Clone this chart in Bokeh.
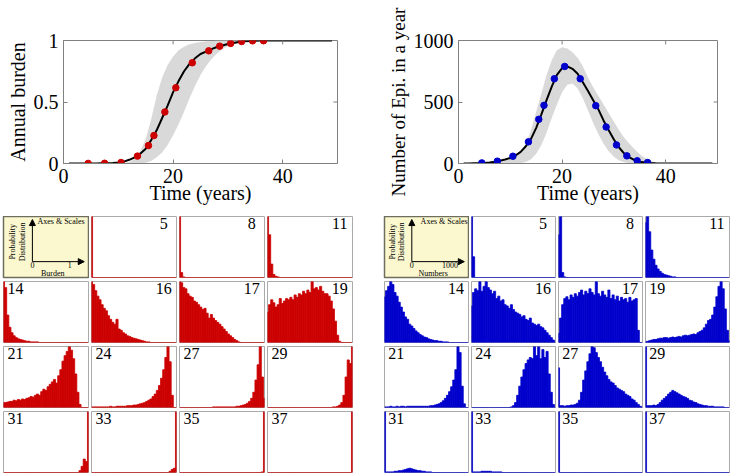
from math import pi
from bokeh.plotting import figure
from bokeh.models import Range1d, FixedTicker, Arrow, NormalHead, Spacer
from bokeh.layouts import row, column
from bokeh.embed import file_html
from bokeh.resources import INLINE
from bokeh.core.properties import value

SERIF = "Liberation Serif"
RED = "#cc0000"
BLUE = "#0000cc"
BAND = "#d9d9d9"
AXIS_GREY = "#808080"

# ---------------- top panels data ----------------
years = list(range(1, 50))
burden_mean = [0, 0, 0, 0, 0.001, 0.001, 0.002, 0.003,
               0.005, 0.008, 0.015, 0.03, 0.05, 0.08, 0.12, 0.19, 0.27, 0.37, 0.47, 0.58,
               0.67, 0.75, 0.81, 0.855, 0.89, 0.91, 0.93, 0.947, 0.96, 0.972, 0.98, 0.988,
               0.993, 0.996, 0.998,
               1, 1, 1, 1, 1, 1, 1, 1, 1, 1, 1, 1, 1, 1]
burden_upper = [0, 0, 0, 0, 0, 0, 0, 0, 0, 0,
                0.003, 0.012, 0.04, 0.1, 0.2, 0.36, 0.55, 0.7, 0.8, 0.87, 0.92, 0.95, 0.97,
                0.98, 0.988, 0.993, 0.996, 0.998,
                1, 1, 1, 1, 1, 1, 1, 1, 1, 1, 1, 1, 1, 1, 1, 1, 1, 1, 1, 1, 1]
burden_lower = [0, 0, 0, 0, 0, 0, 0, 0, 0, 0, 0, 0, 0,
                0.002, 0.006, 0.02, 0.05, 0.09, 0.15, 0.23, 0.32, 0.42, 0.53, 0.63, 0.72,
                0.79, 0.85, 0.895, 0.93, 0.955, 0.972, 0.983, 0.99, 0.995, 0.998,
                1, 1, 1, 1, 1, 1, 1, 1, 1, 1, 1, 1, 1, 1]
epi_mean = [0, 1, 2, 3, 5, 8, 14, 22, 32, 45, 65, 95, 140, 200, 290, 400, 515, 625, 720, 775,
            790, 770, 730, 660, 590, 515, 440, 350, 270, 195, 130, 80, 50, 27, 15, 9, 5, 2, 1,
            0, 0, 0, 0, 0, 0, 0, 0, 0, 0]
epi_upper = [0, 0, 0, 0, 1, 3, 6, 12, 22, 38, 60, 100, 160, 270, 420, 570, 720, 840, 920, 945,
             935, 905, 860, 790, 700, 620, 550, 480, 410, 340, 270, 210, 160, 115, 75, 45, 25,
             10, 3, 0, 0, 0, 0, 0, 0, 0, 0, 0, 0]
epi_lower = [0, 0, 0, 0, 0, 0, 0, 0, 0, 0, 0,
             3, 12, 35, 80, 150, 250, 370, 480, 580, 640, 650, 610, 530, 430, 330, 240, 160,
             100, 55, 25, 10, 3,
             0, 0, 0, 0, 0, 0, 0, 0, 0, 0, 0, 0, 0, 0, 0, 0]

sample_years = [4.5, 7.5, 10.5, 13.5, 15.5, 16.5, 18.5, 20.5, 23.5, 26.5, 28.5, 30.5, 32.5, 34.5, 36.5]
burden_points = [0.001, 0.002, 0.008, 0.06, 0.146, 0.227, 0.419, 0.616, 0.819, 0.916, 0.954,
                 0.976, 0.992, 0.997, 0.998]
epi_points = [5, 19, 59, 176, 359, 473, 689, 789, 689, 470, 297, 151, 62, 22, 8]

year_ticks = [0, 20, 40]
burden_ticks = [0, 0.5, 1]
epi_ticks = [0, 500, 1000]

# ---------------- histogram panels data ----------------
panel_labels = [5, 8, 11, 14, 16, 17, 19, 21, 24, 27, 29, 31, 33, 35, 37]
burden_label_side = ["right", "right", "right", "left", "right", "right", "right",
                     "left", "left", "left", "left", "left", "left", "left", "left"]
numbers_label_side = ["right", "right", "right", "right", "right", "right", "left",
                      "left", "left", "left", "left", "left", "left", "left", "left"]
burden_bins = [k / 40 for k in range(41)]
numbers_bins = [25 * k for k in range(41)]

burden_05 = [100, 0, 0, 0, 0, 0, 0, 0, 0, 0, 0, 0, 0, 0, 0, 0, 0, 0, 0, 0,
             0, 0, 0, 0, 0, 0, 0, 0, 0, 0, 0, 0, 0, 0, 0, 0, 0, 0, 0, 0, 0]
burden_08 = [100, 8, 1, 0, 0, 0, 0, 0, 0, 0, 0, 0, 0, 0, 0, 0, 0, 0, 0, 0,
             0, 0, 0, 0, 0, 0, 0, 0, 0, 0, 0, 0, 0, 0, 0, 0, 0, 0, 0, 0, 0]
burden_11 = [100, 70, 22, 5, 2, 1, 0, 0, 0, 0, 0, 0, 0, 0, 0, 0, 0, 0, 0, 0,
             0, 0, 0, 0, 0, 0, 0, 0, 0, 0, 0, 0, 0, 0, 0, 0, 0, 0, 0, 0, 0]
burden_14 = [100, 90, 45, 25, 16, 11, 8, 6, 5, 4, 3, 2, 2, 1, 1, 1, 1, 0, 0, 0,
             0, 0, 0, 0, 0, 0, 0, 0, 0, 0, 0, 0, 0, 0, 0, 0, 0, 0, 0, 0, 0]
burden_16 = [100, 95, 85, 76, 70, 62, 56, 52, 44, 38, 33, 30, 38, 22, 20, 16, 14, 11, 10, 8,
             7, 6, 5, 4, 3, 2, 1, 1, 0, 0, 0, 0, 0, 0, 0, 0, 0, 0, 0, 0, 0]
burden_17 = [100, 98, 90, 88, 80, 76, 74, 68, 66, 62, 58, 54, 56, 48, 40, 46, 40, 36, 33, 30,
             26, 22, 18, 14, 11, 8, 5, 3, 1, 0, 0, 0, 0, 0, 0, 0, 0, 0, 0, 0, 0]
burden_19 = [50, 62, 70, 65, 58, 62, 72, 64, 68, 72, 70, 74, 70, 78, 74, 80, 78, 84, 80, 86,
             82, 100, 88, 90, 86, 92, 84, 80, 80, 76, 68, 55, 35, 12, 2, 0, 0, 0, 0, 0, 0]
burden_21 = [8, 8, 9, 10, 10, 12, 11, 13, 12, 14, 13, 15, 16, 18, 17, 20, 22, 20, 26, 30,
             28, 34, 38, 42, 46, 40, 52, 62, 76, 85, 92, 100, 94, 80, 55, 25, 5, 0, 0, 0, 0]
burden_24 = [1, 1, 1, 1, 1, 1, 1, 1, 1, 2, 1, 1, 2, 2, 2, 2, 2, 3, 3, 3,
             4, 4, 5, 6, 7, 8, 10, 12, 14, 18, 22, 28, 36, 48, 62, 82, 100, 75, 20, 0, 0]
burden_27 = [0, 0, 0, 0, 0, 0, 0, 0, 0, 0, 0, 0, 0, 0, 0, 0, 1, 1, 1, 1,
             1, 1, 1, 1, 1, 1, 1, 2, 2, 3, 4, 5, 7, 10, 15, 25, 45, 70, 100, 50, 15]
burden_29 = [0, 0, 0, 0, 0, 0, 0, 0, 0, 0, 0, 0, 0, 0, 0, 0, 0, 0, 0, 0,
             0, 0, 0, 0, 0, 0, 0, 0, 0, 0, 0, 1, 1, 2, 4, 8, 20, 50, 78, 72, 100]
burden_31 = [0, 0, 0, 0, 0, 0, 0, 0, 0, 0, 0, 0, 0, 0, 0, 0, 0, 0, 0, 0,
             0, 0, 0, 0, 0, 0, 0, 0, 0, 0, 0, 0, 0, 0, 0, 0, 3, 10, 22, 18, 100]
burden_33 = [0, 0, 0, 0, 0, 0, 0, 0, 0, 0, 0, 0, 0, 0, 0, 0, 0, 0, 0, 0,
             0, 0, 0, 0, 0, 0, 0, 0, 0, 0, 0, 0, 0, 0, 0, 0, 0, 2, 5, 7, 100]
burden_35 = [0, 0, 0, 0, 0, 0, 0, 0, 0, 0, 0, 0, 0, 0, 0, 0, 0, 0, 0, 0,
             0, 0, 0, 0, 0, 0, 0, 0, 0, 0, 0, 0, 0, 0, 0, 0, 0, 0, 0, 1, 100]
burden_37 = [0, 0, 0, 0, 0, 0, 0, 0, 0, 0, 0, 0, 0, 0, 0, 0, 0, 0, 0, 0,
             0, 0, 0, 0, 0, 0, 0, 0, 0, 0, 0, 0, 0, 0, 0, 0, 0, 0, 0, 0, 100]

numbers_05 = [100, 34, 0, 0, 0, 0, 0, 0, 0, 0, 0, 0, 0, 0, 0, 0, 0, 0, 0, 0,
              0, 0, 0, 0, 0, 0, 0, 0, 0, 0, 0, 0, 0, 0, 0, 0, 0, 0, 0, 0, 0]
numbers_08 = [70, 100, 8, 1, 0, 0, 0, 0, 0, 0, 0, 0, 0, 0, 0, 0, 0, 0, 0, 0,
              0, 0, 0, 0, 0, 0, 0, 0, 0, 0, 0, 0, 0, 0, 0, 0, 0, 0, 0, 0, 0]
numbers_11 = [90, 100, 75, 45, 30, 20, 14, 10, 7, 5, 4, 3, 2, 1, 1, 0, 0, 0, 0, 0,
              0, 0, 0, 0, 0, 0, 0, 0, 0, 0, 0, 0, 0, 0, 0, 0, 0, 0, 0, 0, 0]
numbers_14 = [75, 85, 92, 100, 95, 82, 76, 66, 58, 50, 42, 38, 30, 27, 23, 19, 16, 13, 11, 9,
              8, 6, 5, 4, 3, 3, 2, 2, 1, 1, 1, 0, 0, 0, 0, 0, 0, 0, 0, 0, 0]
numbers_16 = [60, 82, 88, 85, 100, 84, 92, 100, 90, 86, 80, 84, 72, 76, 68, 70, 62, 60, 56, 62,
              54, 50, 48, 46, 42, 44, 38, 36, 40, 32, 30, 28, 30, 26, 24, 20, 16, 12, 8, 4, 0]
numbers_17 = [15, 40, 62, 72, 75, 70, 78, 74, 80, 76, 82, 86, 78, 84, 80, 88, 82, 78, 100, 80,
              76, 84, 78, 74, 86, 72, 78, 70, 76, 68, 74, 70, 72, 66, 74, 68, 70, 72, 20, 0, 0]
numbers_19 = [1, 2, 3, 4, 5, 5, 6, 7, 7, 8, 8, 7, 8, 9, 8, 9, 10, 9, 11, 12,
              11, 12, 13, 14, 13, 16, 18, 20, 24, 30, 36, 38, 45, 58, 75, 92, 100, 88, 55, 20, 3]
numbers_21 = [1, 1, 1, 2, 1, 1, 2, 1, 2, 2, 1, 2, 2, 2, 2, 2, 2, 2, 2, 2,
              2, 2, 3, 3, 4, 5, 6, 8, 11, 15, 20, 26, 34, 45, 62, 100, 90, 35, 6, 0, 0]
numbers_24 = [0, 0, 0, 0, 0, 0, 0, 0, 0, 0, 0, 0, 0, 0, 0, 0, 0, 0, 0, 1,
              3, 8, 20, 35, 50, 62, 72, 78, 82, 80, 100, 85, 100, 80, 95, 82, 92, 55, 25, 5, 0]
numbers_27 = [65, 3, 3, 2, 3, 3, 4, 4, 5, 7, 12, 25, 45, 60, 75, 88, 100, 98, 90, 82,
              75, 66, 58, 52, 46, 42, 40, 36, 32, 30, 28, 26, 22, 20, 18, 14, 12, 8, 5, 2, 0]
numbers_29 = [100, 3, 3, 3, 4, 3, 5, 8, 12, 15, 18, 22, 25, 28, 26, 24, 22, 20, 18, 17,
              15, 12, 11, 9, 8, 6, 5, 4, 3, 3, 2, 2, 2, 1, 1, 1, 1, 1, 0, 0, 0]
numbers_31 = [100, 1, 1, 1, 1, 2, 2, 3, 3, 4, 5, 6, 7, 6, 5, 4, 3, 3, 2, 2,
              1, 1, 1, 0, 0, 0, 0, 0, 0, 0, 0, 0, 0, 0, 0, 0, 0, 0, 0, 0, 0]
numbers_33 = [100, 1, 1, 1, 1, 2, 2, 2, 2, 2, 1, 1, 1, 1, 1, 0, 0, 0, 0, 0,
              0, 0, 0, 0, 0, 0, 0, 0, 0, 0, 0, 0, 0, 0, 0, 0, 0, 0, 0, 0, 0]
numbers_35 = [100, 0, 0, 0, 0, 0, 0, 0, 0, 0, 0, 0, 0, 0, 0, 0, 0, 0, 0, 0,
              0, 0, 0, 0, 0, 0, 0, 0, 0, 0, 0, 0, 0, 0, 0, 0, 0, 0, 0, 0, 0]
numbers_37 = [100, 0, 0, 0, 0, 0, 0, 0, 0, 0, 0, 0, 0, 0, 0, 0, 0, 0, 0, 0,
              0, 0, 0, 0, 0, 0, 0, 0, 0, 0, 0, 0, 0, 0, 0, 0, 0, 0, 0, 0, 0]

burden_hists = [burden_05, burden_08, burden_11, burden_14, burden_16, burden_17, burden_19,
                burden_21, burden_24, burden_27, burden_29, burden_31, burden_33, burden_35, burden_37]
numbers_hists = [numbers_05, numbers_08, numbers_11, numbers_14, numbers_16, numbers_17, numbers_19,
                 numbers_21, numbers_24, numbers_27, numbers_29, numbers_31, numbers_33, numbers_35, numbers_37]


# ---------------- builders ----------------
def style_axis(ax, ticks, overrides=None):
    ax.ticker = FixedTicker(ticks=ticks)
    ax.axis_line_color = AXIS_GREY
    ax.major_tick_line_color = AXIS_GREY
    ax.major_tick_in = 4
    ax.major_tick_out = 0
    ax.minor_tick_line_color = None
    ax.major_label_text_font = SERIF
    ax.major_label_text_color = "black"
    ax.major_label_text_font_size = "20px"
    ax.axis_label_text_font = SERIF
    ax.axis_label_text_font_size = "20px"
    ax.axis_label_text_font_style = "normal"
    ax.axis_label_text_color = "black"
    if overrides:
        ax.major_label_overrides = overrides


def top_fig(left, right, ymax, yticks, ylabel, ylabel_size, mean, lower, upper, pts, color,
            overrides):
    p = figure(width=367, height=216, x_range=Range1d(0, 50), y_range=Range1d(0, ymax),
               toolbar_location=None, output_backend="svg", title=None,
               min_border_left=left, min_border_right=right, min_border_top=40, min_border_bottom=53)
    p.grid.visible = False
    p.outline_line_color = AXIS_GREY
    p.varea(x=years, y1=lower, y2=upper, fill_color=BAND)
    p.line(years, mean, line_color="black", line_width=2)
    p.scatter(sample_years, pts, size=6.5, fill_color=color, line_color=color)
    style_axis(p.xaxis[0], year_ticks)
    style_axis(p.yaxis[0], yticks, overrides=overrides)
    p.xaxis[0].axis_label = "Time (years)"
    p.xaxis[0].axis_label_standoff = -4
    p.yaxis[0].axis_label = ylabel
    p.yaxis[0].axis_label_text_font_size = ylabel_size
    p.yaxis[0].axis_label_standoff = 2
    # inward tick marks on the top and right frame edges (box style)
    tick_dy = ymax * 0.032
    p.segment(x0=year_ticks[1:], y0=[ymax] * 2, x1=year_ticks[1:], y1=[ymax - tick_dy] * 2,
              line_color=AXIS_GREY, line_width=1)
    p.segment(x0=[50], y0=[yticks[1]], x1=[49.25], y1=[yticks[1]], line_color=AXIS_GREY,
              line_width=1)
    return p


def hist_fig(width, height, xmax, bins, counts, label, side, color):
    p = figure(width=width, height=height, x_range=Range1d(0, xmax), y_range=Range1d(0, 100),
               x_axis_type=None, y_axis_type=None, toolbar_location=None, output_backend="svg",
               title=None, min_border_left=2, min_border_right=1, min_border_top=0,
               min_border_bottom=height - 61)
    p.outline_line_color = "#aaaaaa"
    p.vbar(x=bins, top=counts, width=xmax / 40, fill_color=color, line_color=color,
           line_width=0.8)
    tx = xmax * 0.85 if side == "right" else xmax * 0.14
    p.text(x=[tx], y=[97], text=[str(label)], text_align="center", text_baseline="top",
           text_font=value(SERIF), text_font_size="16px", text_color="black")
    return p


def key_fig(width, xlabel, right_label, ox, title_x):
    p = figure(width=width, height=65, x_range=Range1d(0, 1), y_range=Range1d(0, 1),
               x_axis_type=None, y_axis_type=None, toolbar_location=None, output_backend="svg",
               title=None, min_border_left=2, min_border_right=1, min_border_top=0,
               min_border_bottom=4)
    p.background_fill_color = "#fbf8cf"
    p.outline_line_color = "#6e6e5e"
    p.outline_line_width = 1.5
    oy = 0.26
    p.add_layout(Arrow(end=NormalHead(size=6, fill_color="black", line_color="black"),
                       x_start=ox, y_start=oy, x_end=ox, y_end=0.95, line_width=1))
    p.add_layout(Arrow(end=NormalHead(size=6, fill_color="black", line_color="black"),
                       x_start=ox, y_start=oy, x_end=0.95, y_end=oy, line_width=1))
    p.text(x=[title_x], y=[0.92], text=["Axes & Scales"], text_align="left", text_baseline="middle",
           text_font=value(SERIF), text_font_size="8px", text_color="black")
    p.text(x=[ox - 0.23, ox - 0.12], y=[0.585, 0.585], text=["Probability", "Distribution"],
           angle=pi / 2, text_align="center", text_baseline="middle",
           text_font=value(SERIF), text_font_size="8px", text_color="black")
    p.text(x=[ox, 0.78], y=[0.2, 0.2], text=["0", right_label], text_align="center",
           text_baseline="middle", text_font=value(SERIF), text_font_size="8px", text_color="black")
    p.text(x=[0.58], y=[0.065], text=[xlabel], text_align="center", text_baseline="middle",
           text_font=value(SERIF), text_font_size="8px", text_color="black")
    return p


# ---------------- assemble ----------------
p_burden = top_fig(63, 30, 1, burden_ticks, "Annual burden", "20px", burden_mean, burden_lower,
                   burden_upper, burden_points, RED, {0: "0", 0.5: "0.5", 1: "1"})
p_epi = top_fig(91, 17, 1000, epi_ticks, "Number of Epi. in a year", "19px", epi_mean, epi_lower,
                epi_upper, epi_points, BLUE, None)
top = row(p_burden, p_epi)

left_cells = [key_fig(88, "Burden", "1", 0.34, 0.40)]
right_cells = [key_fig(87, "Numbers", "1000", 0.325, 0.43)]
for i in range(15):
    r = (i + 1) // 4
    h = 62 if r == 3 else 65
    left_cells.append(hist_fig(88, h, 1, burden_bins, burden_hists[i], panel_labels[i],
                               burden_label_side[i], RED))
    right_cells.append(hist_fig(87, h, 1000, numbers_bins, numbers_hists[i], panel_labels[i],
                                numbers_label_side[i], BLUE))

rows = []
for r in range(4):
    h = 62 if r == 3 else 65
    rows.append(row(Spacer(width=1, height=h), *left_cells[4 * r:4 * r + 4],
                    Spacer(width=29, height=h), *right_cells[4 * r:4 * r + 4]))

root = column(top, *rows, styles={"position": "absolute", "left": "0px", "top": "0px"})

open("out.html", "w").write(file_html(root, INLINE))
